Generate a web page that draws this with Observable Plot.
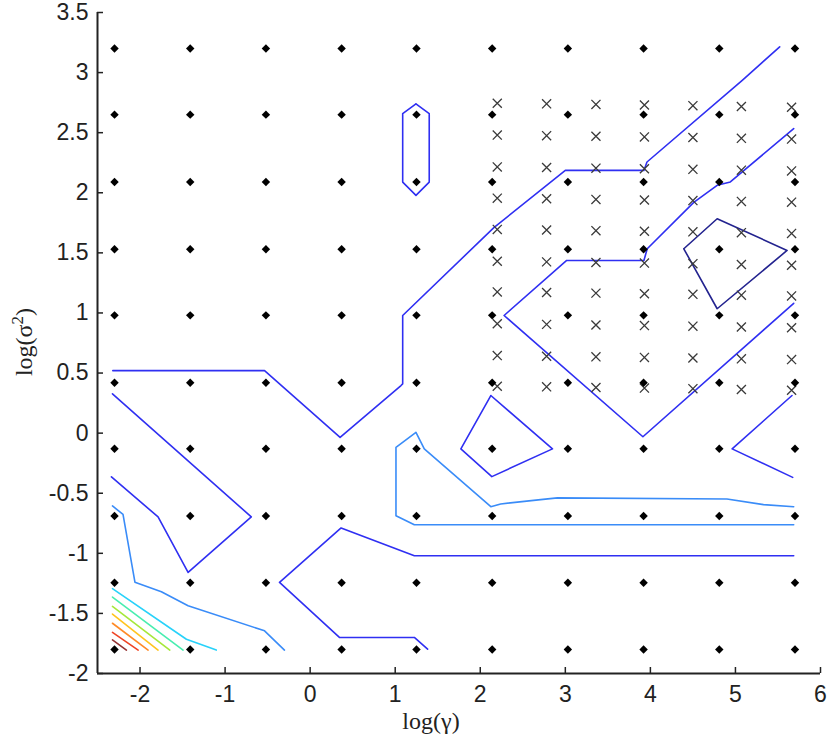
<!DOCTYPE html>
<html><head><meta charset="utf-8">
<script src="https://cdn.jsdelivr.net/npm/d3@7"></script>
<script src="https://cdn.jsdelivr.net/npm/@observablehq/plot@0.6"></script>
<style>body{margin:0;background:#fff}</style>
</head><body><div id="chart"></div>
<script>
// grid of evaluated points (black diamonds)
const gridX = [-2.3, -1.41, -0.52, 0.37, 1.25, 2.14, 3.03, 3.92, 4.81, 5.70];
const gridY = [-1.8, -1.245, -0.69, -0.13, 0.42, 0.98, 1.53, 2.09, 2.65, 3.2];
// refined search points (crosses)
const crossX = [2.20, 2.78, 3.36, 3.93, 4.50, 5.07, 5.66];
const crossY = [2.73, 2.465, 2.20, 1.94, 1.68, 1.415, 1.16, 0.895, 0.63, 0.375];
const crossShift = [0.015, 0.01, 0.005, 0, -0.005, -0.012, -0.018];
// tick labels
const xTicks = [-2, -1, 0, 1, 2, 3, 4, 5, 6];
const yTicks = [-2, -1.5, -1, -0.5, 0, 0.5, 1, 1.5, 2, 2.5, 3, 3.5];

// contour lines
const cBlue1 = [[-2.32,0.52],[-0.536,0.52],[0.352,-0.035],[1.068,0.396],[1.088,0.41],[1.088,0.979],[2.16,1.71],[3.0,2.186],[3.924,2.186],[3.96,2.256],[5.08,2.936],[5.52,3.214]];
const cBlue2 = [[1.244,2.74],[1.40,2.659],[1.40,2.089],[1.244,1.978],[1.088,2.089],[1.088,2.659],[1.244,2.74]];
const cBlue3 = [[5.685,2.534],[4.94,2.09],[4.785,2.062],[4.51,1.92],[3.963,1.534],[3.924,1.437],[3.016,1.437],[2.28,0.979],[3.912,-0.03],[5.685,1.08]];
const cNavy = [[4.393,1.534],[4.785,1.784],[5.607,1.52],[4.785,1.035],[4.393,1.534]];
const cBlue4 = [[5.665,0.313],[4.961,-0.131],[5.673,-0.368]];
const cBlue5 = [[2.124,0.313],[2.849,-0.131],[2.136,-0.362],[1.772,-0.131],[2.124,0.313]];
const cLight1 = [[5.685,-0.612],[5.33,-0.595],[4.90,-0.548],[2.907,-0.539],[2.71,-0.553],[2.24,-0.589],[2.124,-0.612],[1.342,-0.131],[1.244,0.007],[1.009,-0.118],[1.009,-0.687],[1.225,-0.762],[5.685,-0.762]];
const cBlue6 = [[1.381,-1.797],[1.225,-1.70],[0.344,-1.70],[-0.36,-1.242],[0.364,-0.789],[1.225,-1.02],[5.685,-1.02]];
const cBlue7 = [[-2.324,0.327],[-0.692,-0.697],[-1.435,-1.159],[-1.788,-0.697],[-2.336,-0.364]];
const cLight2 = [[-2.324,-0.606],[-2.2,-0.676],[-2.06,-1.24],[-1.749,-1.32],[-1.435,-1.436],[-0.536,-1.645],[-0.302,-1.805]];
const cCyan = [[-2.324,-1.294],[-1.455,-1.715],[-1.103,-1.805]];
const cAqua = [[-2.324,-1.364],[-1.494,-1.805]];
const cLime = [[-2.324,-1.442],[-1.65,-1.805]];
const cYellow = [[-2.324,-1.505],[-1.788,-1.805]];
const cOrange = [[-2.324,-1.582],[-1.905,-1.805]];
const cRed = [[-2.324,-1.658],[-2.022,-1.805]];
const cDark = [[-2.324,-1.72],[-2.16,-1.805]];

const contours = [
  ["b1", cBlue1, "#2f2ff2"], ["b2", cBlue2, "#2f2ff2"], ["b3", cBlue3, "#2f2ff2"],
  ["nv", cNavy, "#23238f"], ["b4", cBlue4, "#2f2ff2"], ["b5", cBlue5, "#2f2ff2"],
  ["l1", cLight1, "#3a8cf8"], ["b6", cBlue6, "#2f2ff2"], ["b7", cBlue7, "#2f2ff2"],
  ["l2", cLight2, "#3a8cf8"], ["cy", cCyan, "#28d2fa"], ["aq", cAqua, "#48eeb0"],
  ["lm", cLime, "#a6e83a"], ["ye", cYellow, "#ffc41e"], ["or", cOrange, "#ff8a26"],
  ["rd", cRed, "#ef4424"], ["dk", cDark, "#943232"]
];
const lineRows = contours.flatMap(([id, pts, color]) => pts.map(([x, y]) => ({id, x, y, color})));
const dotRows = gridX.flatMap(x => gridY.map(y => ({x, y})));
const crossRows = crossX.flatMap((x, i) => crossY.map(y => ({x, y: y + crossShift[i]})));

const fmt = d => String(d);
const font = "Liberation Sans, Arial, sans-serif";
const svg = Plot.plot({
  width: 827, height: 743,
  marginLeft: 97, marginRight: 7, marginTop: 12, marginBottom: 70,
  x: {domain: [-2.5, 6], label: null},
  y: {domain: [-2, 3.5], label: null},
  color: {type: "identity"},
  style: {fontFamily: font, background: "#fff"},
  marks: [
    Plot.line(lineRows, {x: "x", y: "y", z: "id", stroke: "color", strokeWidth: 1.6}),
    Plot.dot(crossRows, {x: "x", y: "y", symbol: "times", r: 4.2, stroke: "#3a3a3a", strokeWidth: 1.3}),
    Plot.dot(dotRows, {x: "x", y: "y", symbol: "diamond2", r: 3.8, fill: "#000", stroke: "none"}),
    Plot.ruleX([-2.5], {stroke: "#222", strokeWidth: 2}),
    Plot.ruleY([-2], {stroke: "#222", strokeWidth: 2}),
    Plot.axisX({ticks: xTicks, tickSize: -6, fill: "none", stroke: "#222", strokeWidth: 1.5, label: null}),
    Plot.axisY({ticks: yTicks, tickSize: -6, fill: "none", stroke: "#222", strokeWidth: 1.5, label: null}),
    Plot.axisX({ticks: xTicks, tickFormat: fmt, tickSize: 0, tickPadding: 12, fontSize: 23, fill: "#222", label: null, fontFamily: font}),
    Plot.axisY({ticks: yTicks, tickFormat: fmt, tickSize: 0, tickPadding: 9, fontSize: 23, fill: "#222", label: null, fontFamily: font})
  ]
});
document.getElementById("chart").appendChild(svg);

const s = d3.select(svg);
s.append("text")
  .attr("x", 431).attr("y", 729)
  .attr("text-anchor", "middle")
  .attr("font-family", "Liberation Serif, Times New Roman, serif")
  .attr("font-size", 24).attr("fill", "#222")
  .text("log(γ)");
const yl = s.append("text")
  .attr("transform", "translate(32,342) rotate(-90)")
  .attr("text-anchor", "middle")
  .attr("font-family", "Liberation Serif, Times New Roman, serif")
  .attr("font-size", 24).attr("fill", "#222");
yl.append("tspan").text("log(σ");
yl.append("tspan").attr("dy", -9).attr("font-size", 17).text("2");
yl.append("tspan").attr("dy", 9).text(")");
</script>
</body></html>
